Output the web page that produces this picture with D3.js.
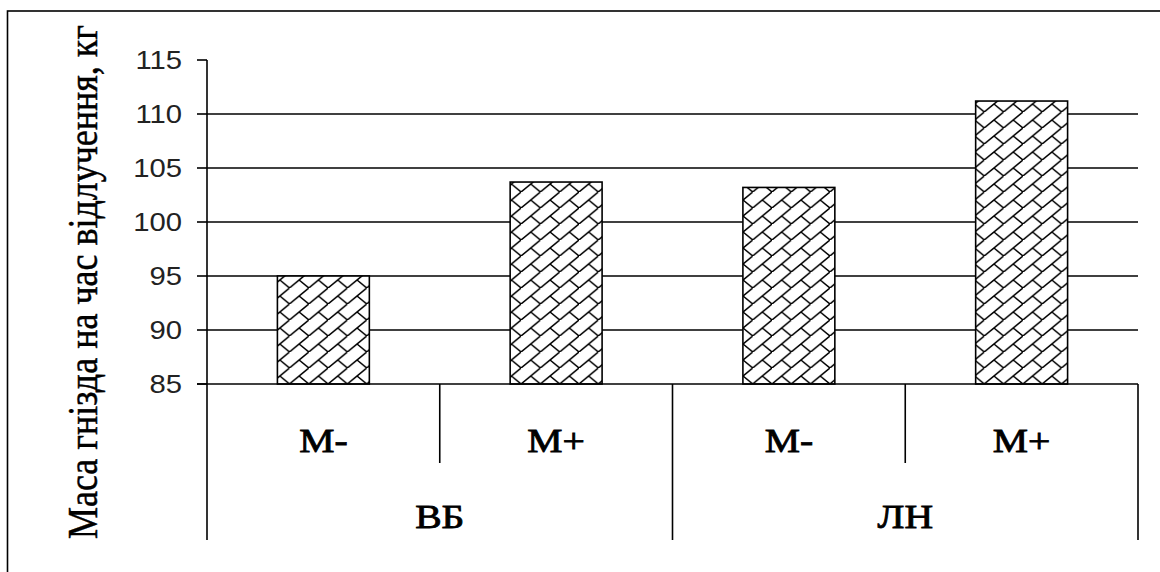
<!DOCTYPE html>
<html>
<head>
<meta charset="utf-8">
<script src="https://cdn.jsdelivr.net/npm/d3@7"></script>
<style>
  html, body { margin: 0; padding: 0; background: #fff; }
  svg { display: block; }
</style>
</head>
<body>
<svg id="chart" width="1160" height="572"></svg>
<script>
// ---- data ----
const groups = ["ВБ", "ЛН"];
const subcats = ["М-", "М+", "М-", "М+"];
const catGroup = ["ВБ", "ВБ", "ЛН", "ЛН"];
const values = [95.0, 103.7, 103.2, 111.2];
const yTicks = [85, 90, 95, 100, 105, 110, 115];
const yTitle = "Маса гнізда на час відлучення, кг";

(function () {
const svg = d3.select("#chart");
const pLeft = 207, pRight = 1138, pTop = 60, pBottom = 384;
const stretch = 1.2;

// frame
svg.append("rect").attr("x", 7.5).attr("y", 11).attr("width", 1200).attr("height", 600)
  .attr("fill", "#fff").attr("stroke", "#000").attr("stroke-width", 1.6);

// pattern (diagonal brick)
const defs = svg.append("defs");
const pw = 19.3, ph = 16;
const pat = defs.append("pattern").attr("id", "brick").attr("patternUnits", "userSpaceOnUse")
  .attr("width", pw).attr("height", ph);
pat.append("rect").attr("width", pw).attr("height", ph).attr("fill", "#fff");
[[0, ph, pw, 0], [-pw, 2*ph, 0, ph], [pw, 0, 2*pw, -ph], [pw/2, ph/2, pw, ph]].forEach(s => {
  pat.append("line").attr("x1", s[0]).attr("y1", s[1]).attr("x2", s[2]).attr("y2", s[3])
    .attr("stroke", "#000").attr("stroke-width", 1.5);
});

// scales
const y = d3.scaleLinear().domain([85, 115]).range([pBottom, pTop]);
const x = d3.scaleBand().domain(d3.range(subcats.length)).range([pLeft, pRight]).padding(0);
const xg = d3.scaleBand().domain(groups).range([pLeft, pRight]).padding(0);
const barW = x.bandwidth() * 0.395;

// gridlines
svg.append("g").selectAll("line").data(yTicks.filter(t => t > 85 && t < 115)).join("line")
  .attr("x1", pLeft).attr("x2", pRight)
  .attr("y1", d => y(d)).attr("y2", d => y(d))
  .attr("stroke", "#000").attr("stroke-width", 1.6);

// bars
svg.append("g").selectAll("rect").data(values).join("rect")
  .attr("x", (d, i) => x(i) + x.bandwidth()/2 - barW/2)
  .attr("width", barW)
  .attr("y", d => y(d))
  .attr("height", d => y(85) - y(d))
  .attr("fill", "url(#brick)")
  .attr("stroke", "#000").attr("stroke-width", 1.6);

// y axis
const axisG = svg.append("g");
axisG.append("line").attr("x1", pLeft).attr("x2", pLeft).attr("y1", pTop).attr("y2", 540)
  .attr("stroke", "#000").attr("stroke-width", 1.6);
axisG.selectAll("line.tick").data(yTicks).join("line").attr("class", "tick")
  .attr("x1", pLeft - 10).attr("x2", pLeft)
  .attr("y1", d => y(d)).attr("y2", d => y(d))
  .attr("stroke", "#000").attr("stroke-width", 1.6);
axisG.selectAll("text").data(yTicks).join("text")
  .attr("transform", d => `translate(182,${y(d) + 9}) scale(1.17,1)`)
  .attr("text-anchor", "end")
  .attr("font-family", "Liberation Sans, Arial, sans-serif")
  .attr("font-size", 25)
  .attr("fill", "#222")
  .text(d => d);

// category axis
const catG = svg.append("g");
catG.append("line").attr("x1", pLeft - 10).attr("x2", pRight).attr("y1", pBottom).attr("y2", pBottom)
  .attr("stroke", "#000").attr("stroke-width", 1.6);
catG.selectAll("line.sep").data(d3.range(1, subcats.length).filter(i => catGroup[i] === catGroup[i-1])).join("line")
  .attr("class", "sep")
  .attr("x1", i => x(i)).attr("x2", i => x(i))
  .attr("y1", pBottom).attr("y2", 463)
  .attr("stroke", "#000").attr("stroke-width", 1.6);
catG.selectAll("line.grp").data(groups.map(g => xg(g) + xg.bandwidth())).join("line")
  .attr("class", "grp")
  .attr("x1", d => d).attr("x2", d => d)
  .attr("y1", pBottom).attr("y2", 540)
  .attr("stroke", "#000").attr("stroke-width", 1.6);
catG.selectAll("text.sub").data(subcats).join("text").attr("class", "sub")
  .attr("transform", (d, i) => `translate(${x(i) + x.bandwidth()/2},452) scale(${stretch},1)`)
  .attr("text-anchor", "middle")
  .attr("font-family", "Liberation Serif, Times New Roman, serif")
  .attr("font-size", 33)
  .attr("fill", "#000")
  .attr("stroke", "#000").attr("stroke-width", 0.8)
  .text(d => d);
catG.selectAll("text.grp").data(groups).join("text").attr("class", "grp")
  .attr("transform", d => `translate(${xg(d) + xg.bandwidth()/2},528) scale(${stretch},1)`)
  .attr("text-anchor", "middle")
  .attr("font-family", "Liberation Serif, Times New Roman, serif")
  .attr("font-size", 33)
  .attr("fill", "#000")
  .attr("stroke", "#000").attr("stroke-width", 0.8)
  .text(d => d);

// y title
svg.append("text")
  .attr("transform", `translate(97,282) scale(${stretch},1) rotate(-90)`)
  .attr("text-anchor", "middle")
  .attr("font-family", "Liberation Serif, Times New Roman, serif")
  .attr("font-size", 36)
  .attr("fill", "#000")
  .attr("stroke", "#000").attr("stroke-width", 0.4)
  .text(yTitle);
})();
</script>
</body>
</html>
